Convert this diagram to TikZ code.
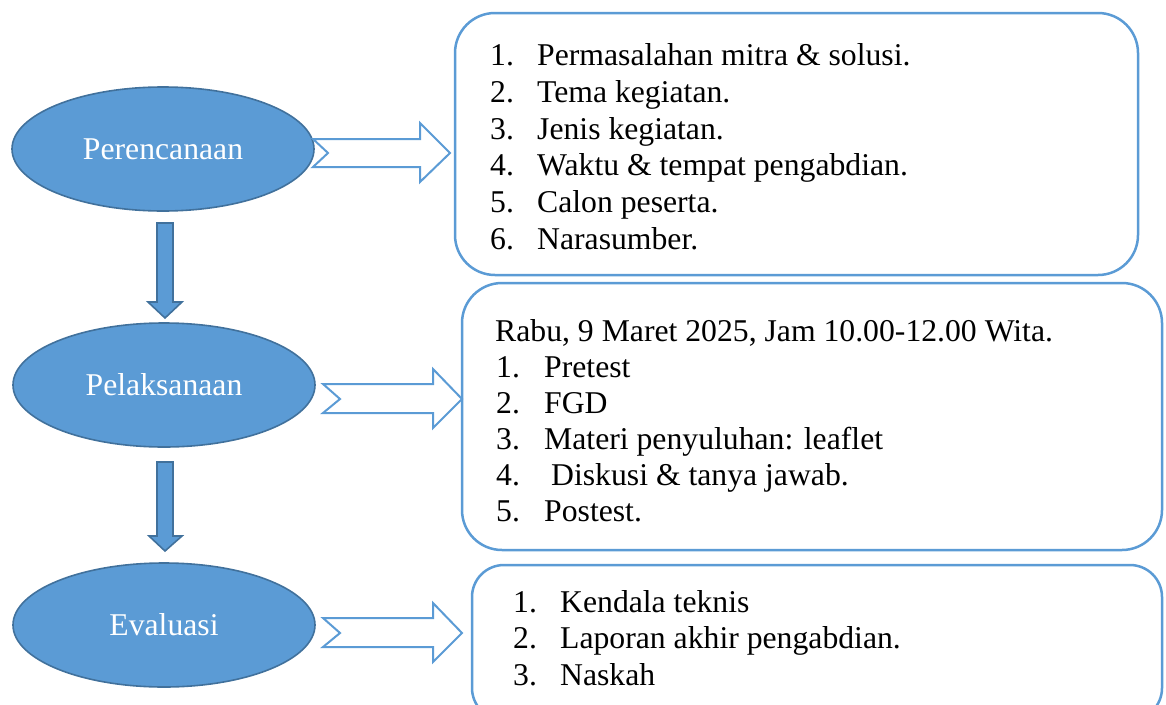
\documentclass[tikz,border=0pt]{standalone}
\usepackage{fontspec}
\setmainfont{Liberation Serif}
\usetikzlibrary{shapes.geometric}
\definecolor{fillblue}{HTML}{5B9BD5}
\definecolor{edgeblue}{HTML}{41719C}
\begin{document}
\begin{tikzpicture}[x=1pt,y=-1pt,
  stage/.style={ellipse, fill=fillblue, draw=edgeblue, line width=1.6pt,
    minimum width=302pt, minimum height=124pt, inner sep=0pt,
    text=white, font=\fontsize{31.7pt}{38pt}\selectfont},
  infobox/.style={rectangle, draw=fillblue, line width=2.5pt, rounded corners=40pt, inner sep=0pt},
  item/.style={anchor=base west, inner sep=0pt, font=\fontsize{31.7pt}{38pt}\selectfont},
  downarrow/.style={fill=fillblue, draw=edgeblue, line width=1.6pt, line join=miter},
  rightarrow/.style={fill=white, draw=fillblue, line width=2pt, line join=miter}]
\useasboundingbox (0,0) rectangle (1166,704);
\clip (0,0) rectangle (1166,704);

% stages
\node[stage] (s1) at (163,149) {Perencanaan};
\node[stage] (s2) at (164,385) {Pelaksanaan};
\node[stage] (s3) at (164,625) {Evaluasi};

% boxes
\node[infobox, minimum width=683pt, minimum height=262pt] (b1) at (796.5,144) {};
\node[infobox, minimum width=700pt, minimum height=267pt] (b2) at (812,416.5) {};
\node[infobox, minimum width=690pt, minimum height=155pt, rounded corners=32pt] (b3) at (817,642.5) {};

% box 1 text
\node[item] (l11) at (490,65)  {\makebox[47pt][l]{1.}Permasalahan mitra \& solusi.};
\node[item] (l12) at (490,102) {\makebox[47pt][l]{2.}Tema kegiatan.};
\node[item] (l13) at (490,139) {\makebox[47pt][l]{3.}Jenis kegiatan.};
\node[item] (l14) at (490,175) {\makebox[47pt][l]{4.}Waktu \& tempat pengabdian.};
\node[item] (l15) at (490,212) {\makebox[47pt][l]{5.}Calon peserta.};
\node[item] (l16) at (490,249) {\makebox[47pt][l]{6.}Narasumber.};

% box 2 text
\node[item] (l20) at (495,341) {Rabu, 9 Maret 2025, Jam 10.00-12.00 Wita.};
\node[item] (l21) at (496,377) {\makebox[48pt][l]{1.}Pretest};
\node[item] (l22) at (496,413) {\makebox[48pt][l]{2.}FGD};
\node[item] (l23) at (496,449) {\makebox[48pt][l]{3.}Materi penyuluhan: leaflet};
\node[item] (l24) at (496,485) {\makebox[55pt][l]{4.}Diskusi \& tanya jawab.};
\node[item] (l25) at (496,521) {\makebox[48pt][l]{5.}Postest.};

% box 3 text
\node[item] (l31) at (513,612) {\makebox[47pt][l]{1.}Kendala teknis};
\node[item] (l32) at (513,648) {\makebox[47pt][l]{2.}Laporan akhir pengabdian.};
\node[item] (l33) at (513,685) {\makebox[47pt][l]{3.}Naskah};

% vertical arrows
\draw[downarrow] (157,223) -- (173,223) -- (173,302) -- (182,302) -- (165,318)
  -- (148,302) -- (157,302) -- cycle;
\draw[downarrow] (157,462) -- (173,462) -- (173,536) -- (182,536) -- (165,551)
  -- (149,536) -- (157,536) -- cycle;

% horizontal arrows (notched block arrows)
\draw[rightarrow] (313,139) -- (420,139) -- (420,123) -- (450,153) -- (420,182)
  -- (420,167) -- (313,167) -- (328,153) -- cycle;
\draw[rightarrow] (323,384) -- (433,384) -- (433,369) -- (462,399) -- (433,428)
  -- (433,413) -- (323,413) -- (340,399) -- cycle;
\draw[rightarrow] (323,618) -- (433,618) -- (433,603) -- (462,633) -- (433,662)
  -- (433,647) -- (323,647) -- (340,633) -- cycle;
\end{tikzpicture}
\end{document}
